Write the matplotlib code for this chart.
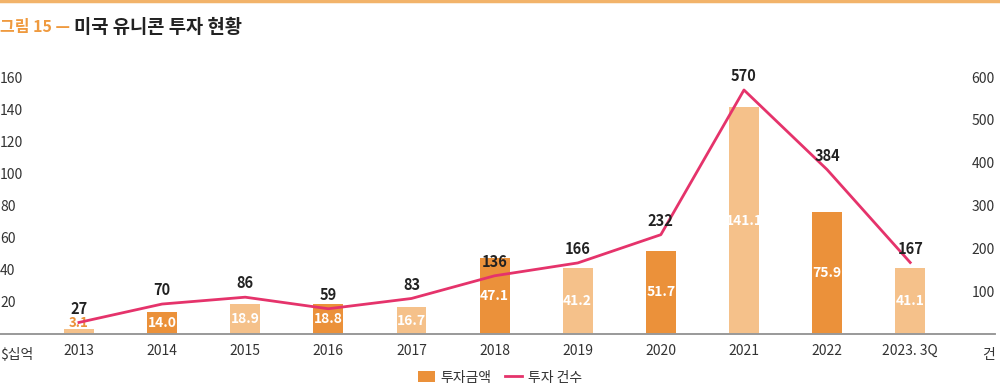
import matplotlib.pyplot as plt
from matplotlib.lines import Line2D
from matplotlib.patches import Patch
import numpy as np

plt.rcParams['font.family'] = ['Noto Sans CJK KR', 'DejaVu Sans']

years = ["2013", "2014", "2015", "2016", "2017", "2018", "2019", "2020", "2021", "2022", "2023. 3Q"]
amounts = [3.1, 14.0, 18.9, 18.8, 16.7, 47.1, 41.2, 51.7, 141.1, 75.9, 41.1]
counts = [27, 70, 86, 59, 83, 136, 166, 232, 570, 384, 167]
left_ticks = [20, 40, 60, 80, 100, 120, 140, 160]
right_ticks = [100, 200, 300, 400, 500, 600]

light = "#F5C18A"
dark = "#EB913A"
pink = "#E5336B"
grey = "#333333"

fig = plt.figure(figsize=(10, 3.86), dpi=100)
fig.add_artist(Line2D([0, 1], [0.997, 0.997], color="#F2B36A", lw=2.5))
fig.text(0.0, 0.93, "그림 15 —", color="#EF9A3F", fontsize=11.5, fontweight="bold", va="center")
fig.text(0.074, 0.93, "미국 유니콘 투자 현황", color="#222222", fontsize=13.5, fontweight="bold", va="center")

ax = fig.add_axes([0.0, 0.1347, 0.995, 0.7098])
ax2 = ax.twinx()
x = np.arange(len(years))
colors = [light if i % 2 == 0 else dark for i in range(len(years))]
ax.bar(x, amounts, width=0.36, color=colors, zorder=2)

ax.set_xlim(-0.95, 11.02)
ax.set_ylim(0, 170.6)
ax2.set_ylim(0, 640)

for i, v in enumerate(amounts):
    if v < 8:
        ax.text(i, v + 3.6, f"{v:.1f}", ha="center", va="center", color=dark,
                fontsize=9.5, fontweight="bold", zorder=5)
    else:
        ax.text(i, v / 2, f"{v:.1f}", ha="center", va="center", color="white",
                fontsize=10, fontweight="bold", zorder=5)

ax2.plot(x, counts, color=pink, lw=2, zorder=3)
for i, c in enumerate(counts):
    ax2.text(i, c + 32, str(c), ha="center", va="center", color="#222222",
             fontsize=10.5, fontweight="bold", zorder=5)

ax.set_xticks(x)
ax.set_xticklabels(years, fontsize=10, color=grey)
ax.tick_params(axis="x", length=0, pad=7)
ax.set_yticks(left_ticks)
ax.set_yticklabels([str(t) for t in left_ticks], ha="left", fontsize=10, color=grey)
ax.tick_params(axis="y", length=0, pad=0)
ax2.set_yticks(right_ticks)
ax2.set_yticklabels([str(t) for t in right_ticks], ha="right", fontsize=10, color=grey)
ax2.tick_params(axis="y", length=0, pad=0)

for a in (ax, ax2):
    for s in ("top", "left", "right"):
        a.spines[s].set_visible(False)
    a.spines["bottom"].set_color("#999999")
    a.spines["bottom"].set_linewidth(1.2)
    a.patch.set_visible(False)

ax.text(0.0, -0.075, "$십억", transform=ax.transAxes, ha="left", va="center", fontsize=10, color=grey)
ax.text(1.0, -0.075, "건", transform=ax.transAxes, ha="right", va="center", fontsize=10, color=grey)

handles = [Patch(facecolor=dark, label="투자금액"),
           Line2D([0], [0], color=pink, lw=2, label="투자 건수")]
fig.legend(handles=handles, loc="center", bbox_to_anchor=(0.5, 0.022), ncol=2, frameon=False,
           fontsize=10, handlelength=1.2, handleheight=0.8, columnspacing=1.0, handletextpad=0.4,
           labelcolor=grey)

fig.savefig("out.png", dpi=100)
